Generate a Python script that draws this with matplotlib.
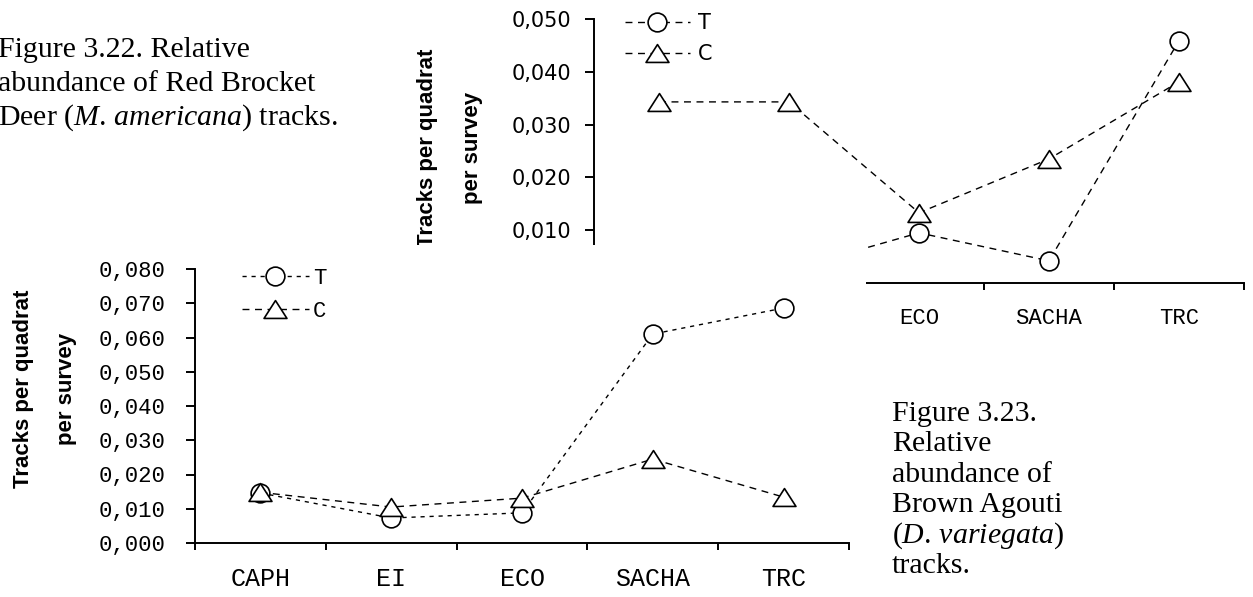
import matplotlib
matplotlib.use('Agg')
import matplotlib.pyplot as plt
from matplotlib.patches import Rectangle
from matplotlib.path import Path

plt.rcParams['mathtext.fontset'] = 'custom'
plt.rcParams['mathtext.rm'] = 'Liberation Serif'
plt.rcParams['mathtext.it'] = 'Liberation Serif:italic'

categories = ['CAPH', 'EI', 'ECO', 'SACHA', 'TRC']

# Fig 3.22 - red brocket deer (front chart)
deer_T = [0.0146, 0.0073, 0.0088, 0.0610, 0.0686]
deer_C = [0.0148, 0.0105, 0.0131, 0.0245, 0.0134]
deer_yticks = [0.0, 0.01, 0.02, 0.03, 0.04, 0.05, 0.06, 0.07, 0.08]
deer_ylabels = ['0,000', '0,010', '0,020', '0,030', '0,040', '0,050', '0,060', '0,070', '0,080']

# Fig 3.23 - brown agouti (back chart, lower left hidden by fig 3.22)
agouti_T = [0.0040, 0.0025, 0.0095, 0.0042, 0.0459]
agouti_C = [0.0343, 0.0343, 0.0133, 0.0235, 0.0381]
agouti_yticks = [0.0, 0.01, 0.02, 0.03, 0.04, 0.05]
agouti_ylabels = ['0,000', '0,010', '0,020', '0,030', '0,040', '0,050']

caption_deer = ['Figure 3.22. Relative', 'abundance of Red Brocket',
                'Deer ($\\mathit{M.\\,americana}$) tracks.']
caption_agouti = ['Figure 3.23.', 'Relative', 'abundance of', 'Brown Agouti',
                  '($\\mathit{D.\\,variegata}$)', 'tracks.']

W, H = 1253, 597
fig = plt.figure(figsize=(W / 100, H / 100), dpi=100)


def box(l, t, r, b):
    return [l / W, 1 - b / H, (r - l) / W, (b - t) / H]


def px(x, y):
    return x / W, 1 - y / H


tri = Path([(-1, -0.78), (1, -0.78), (0, 0.78), (-1, -0.78)], closed=True)
xpos = [i + 0.5 for i in range(len(categories))]


def style_axes(ax, yticks, ylabels, yfont, xfont, ypad, xpad):
    for s in ['top', 'right']:
        ax.spines[s].set_visible(False)
    for s in ['left', 'bottom']:
        ax.spines[s].set_linewidth(1.4)
    ax.set_xlim(0, len(categories))
    ax.set_ylim(yticks[0], yticks[-1])
    ax.set_xticks(range(len(categories) + 1))
    ax.set_xticklabels([])
    ax.set_xticks(xpos, minor=True)
    ax.set_xticklabels(categories, minor=True, **xfont)
    ax.tick_params(axis='x', which='major', direction='out', length=5, width=1.4)
    ax.tick_params(axis='x', which='minor', length=0, pad=xpad)
    ax.set_yticks(yticks)
    ax.set_yticklabels(ylabels, **yfont)
    ax.tick_params(axis='y', direction='out', length=6.5, width=1.4, pad=ypad)


# back chart (agouti)
ax2 = fig.add_axes(box(594, 19, 1244, 283), zorder=0)
ax2.plot(xpos, agouti_T, color='black', lw=1.0, ls=(0, (5, 4)), marker='o',
         ms=13.5, mfc='white', mec='black', mew=1.2, label='T')
ax2.plot(xpos, agouti_C, color='black', lw=1.0, ls=(0, (5, 4)), marker=tri,
         ms=16.5, mfc='white', mec='black', mew=1.2, label='C')
style_axes(ax2, agouti_yticks, agouti_ylabels,
           dict(family='DejaVu Sans', fontsize=15),
           dict(family='Liberation Mono', fontsize=16), 10, 18)
ax2.legend(loc='upper left', bbox_to_anchor=px(625, 13), bbox_transform=fig.transFigure,
           frameon=False, borderpad=0, borderaxespad=0, handlelength=3.1,
           handletextpad=0.4, labelspacing=0.53,
           prop=dict(family='DejaVu Sans', size=15))
ax2.text(*px(450, 148), 'Tracks per quadrat\nper survey', transform=fig.transFigure,
         rotation=90, ha='center', va='center', multialignment='center',
         family='Liberation Sans', weight='bold', fontsize=16, linespacing=2.5)

# white page area of the front chart covering the back one
fig.add_artist(Rectangle(px(0, H), 866 / W, 1 - 245 / H, transform=fig.transFigure,
                         facecolor='white', edgecolor='none', zorder=1))

# front chart (deer)
ax1 = fig.add_axes(box(195, 269, 849, 543), zorder=2)
ax1.plot(xpos, deer_T, color='black', lw=1.0, ls=(0, (3, 3.5)), marker='o',
         ms=13.5, mfc='white', mec='black', mew=1.2, label='T')
ax1.plot(xpos, deer_C, color='black', lw=1.0, ls=(0, (5, 4)), marker=tri,
         ms=16.5, mfc='white', mec='black', mew=1.2, label='C')
style_axes(ax1, deer_yticks, deer_ylabels,
           dict(family='Liberation Mono', fontsize=16),
           dict(family='Liberation Mono', fontsize=18), 15, 17)
ax1.legend(loc='upper left', bbox_to_anchor=px(242, 268), bbox_transform=fig.transFigure,
           frameon=False, borderpad=0, borderaxespad=0, handlelength=3.0,
           handletextpad=0.2, labelspacing=0.52,
           prop=dict(family='Liberation Mono', size=16))
ax1.text(*px(45, 389), 'Tracks per quadrat\nper survey', transform=fig.transFigure,
         rotation=90, ha='center', va='center', multialignment='center',
         family='Liberation Sans', weight='bold', fontsize=16, linespacing=2.4)

# captions, one line at a time
for i, line in enumerate(caption_deer):
    fig.text(*px(-2, 57 + 34 * i), line, ha='left', va='baseline',
             family='Liberation Serif', fontsize=21.5)
for i, line in enumerate(caption_agouti):
    fig.text(*px(892, 421 + 30.4 * i), line, ha='left', va='baseline',
             family='Liberation Serif', fontsize=21.5)

fig.savefig('out.png', dpi=100, facecolor='white')
